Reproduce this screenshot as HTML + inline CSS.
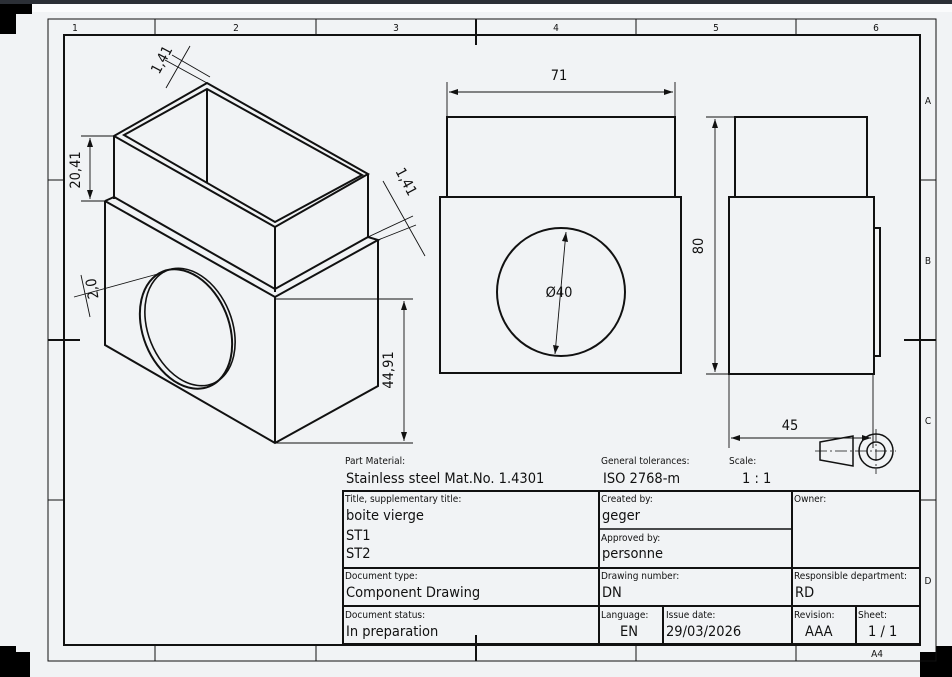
<!DOCTYPE html>
<html><head><meta charset="utf-8"><style>
html,body{margin:0;padding:0;background:#eef0f2;}
svg{display:block;}
text{font-family:"DejaVu Sans Condensed","Liberation Sans",sans-serif;fill:#111;}
.s{font-size:10px;}
.m{font-size:14.5px;}
</style></head><body>
<svg width="952" height="677" viewBox="0 0 952 677" xmlns="http://www.w3.org/2000/svg">
<rect x="0" y="0" width="952" height="677" fill="#f1f3f5"/>
<rect x="0" y="0" width="952" height="4" fill="#2b2f36"/>
<rect x="0" y="4" width="32" height="10" fill="#000"/>
<rect x="0" y="14" width="16" height="20" fill="#000"/>
<rect x="0" y="646" width="16" height="31" fill="#000"/>
<rect x="16" y="652" width="14" height="25" fill="#000"/>
<rect x="920" y="652" width="32" height="25" fill="#000"/>
<rect x="936" y="646" width="16" height="10" fill="#000"/>
<rect x="32" y="4" width="920" height="8" fill="#fafbfc"/>
<g fill="none" stroke="#111">
<rect x="48" y="19" width="888" height="642" stroke-width="1"/>
<rect x="64" y="35" width="856" height="610" stroke-width="2"/>
<path d="M155 19V35M316 19V35M636 19V35M796 19V35M155 645V661M316 645V661M636 645V661M796 645V661M48 180H64M48 500H64M920 180H936M920 500H936" stroke-width="1"/>
<path d="M476 19V45M476 635V661M48 340H80M904 340H936" stroke-width="2"/>
</g>
<g class="s" text-anchor="middle">
<text x="75" y="31">1</text><text x="236" y="31">2</text><text x="396" y="31">3</text><text x="556" y="31">4</text><text x="716" y="31">5</text><text x="876" y="31">6</text>
<text x="928" y="104">A</text><text x="928" y="264">B</text><text x="928" y="424">C</text><text x="928" y="584">D</text>
<text x="877" y="657">A4</text>
</g>

<!-- isometric -->
<g fill="none" stroke="#111" stroke-width="2" stroke-linejoin="miter">
<path d="M207 83L114 136L275 227L368 174Z"/>
<path d="M207 89L124 135L275 222L362 175Z"/>
<path d="M207 89V183"/>
<path d="M114 136V199M275 227V292M368 174V237"/>
<path d="M105 201L114 197M105 201L275 297L378 240L368 237"/>
<path d="M114 197L275 289L368 237"/>
<path d="M105 201V345L275 443L378 386V240M275 297V443"/>
<ellipse cx="186" cy="329" rx="43" ry="62" transform="rotate(-22 186 329)"/>
<ellipse cx="190" cy="327" rx="42" ry="61" transform="rotate(-22 190 327)" stroke-width="1.6"/>
</g>
<g fill="none" stroke="#111" stroke-width="0.9">
<path d="M81 136H114M81 201H105M90 138V199"/>
<path d="M275 299H413M275 443H413M404 301V441"/>
<path d="M165 60L207 83M172 55L210 77M166 88L190 46"/>
<path d="M383 181L425 256M368 237L413 216M378 240L416 225"/>
<path d="M74 297L165 272M81 275L90 317"/>
<path d="M447 117V82M675 117V82M449 92H673"/>
<path d="M706 117H735M706 374H730M715 119V372"/>
<path d="M729 374V448M873 374V448M731 438H871"/>
<path d="M566 232L555 354"/>
</g>
<g fill="#111">
<path d="M90 138l-3 9h6z M90 199l-3-9h6z"/>
<path d="M404 301l-3 9h6z M404 441l-3-9h6z"/>
<path d="M449 92l9-3v6z M673 92l-9-3v6z"/>
<path d="M715 119l-3 9h6z M715 372l-3-9h6z"/>
<path d="M731 438l9-3v6z M871 438l-9-3v6z"/>
<path d="M566 232l-4 9l6 1z M555 354l-2-9l6 1z"/>
</g>
<g class="m">
<text transform="translate(80 170) rotate(-90)" text-anchor="middle">20,41</text>
<text transform="translate(393 370) rotate(-90)" text-anchor="middle">44,91</text>
<text transform="translate(166 62) rotate(-62)" text-anchor="middle">1,41</text>
<text transform="translate(402 184) rotate(62)" text-anchor="middle">1,41</text>
<text transform="translate(97 288) rotate(-98)" text-anchor="middle">2,0</text>
<text x="559" y="80" text-anchor="middle">71</text>
<text x="559" y="297" text-anchor="middle">Ø40</text>
<text transform="translate(703 246) rotate(-90)" text-anchor="middle">80</text>
<text x="790" y="430" text-anchor="middle">45</text>
</g>

<!-- front view -->
<g fill="none" stroke="#111" stroke-width="2">
<rect x="447" y="117" width="228" height="80"/>
<rect x="440" y="197" width="241" height="176"/>
<circle cx="561" cy="292" r="64"/>
<rect x="735" y="117" width="132" height="80"/>
<rect x="729" y="197" width="145" height="177"/>
<rect x="874" y="228" width="6" height="128"/>
<path d="M820 442L853 436V466L820 460Z" stroke-width="1.5"/>
<circle cx="876" cy="451" r="17" stroke-width="1.5"/>
<circle cx="876" cy="451" r="9" stroke-width="1.5"/>
</g>
<path d="M815 451H896M876 429V474" stroke="#111" stroke-width="0.8" stroke-dasharray="12 3 2 3" fill="none"/>

<!-- upper texts -->
<text x="345" y="464" class="s">Part Material:</text>
<text x="346" y="483" class="m">Stainless steel Mat.No. 1.4301</text>
<text x="601" y="464" class="s">General tolerances:</text>
<text x="603" y="483" class="m">ISO 2768-m</text>
<text x="729" y="464" class="s">Scale:</text>
<text x="742" y="483" class="m">1 : 1</text>

<!-- title block -->
<g fill="none" stroke="#111" stroke-width="2">
<rect x="343" y="491" width="577" height="153"/>
<path d="M599 491V644M792 491V644M343 568H920M343 606H920M663 606V644M856 606V644"/>
<path d="M599 529H792" stroke-width="1.5"/>
</g>
<g class="s">
<text x="345" y="502">Title, supplementary title:</text>
<text x="601" y="502">Created by:</text>
<text x="794" y="502">Owner:</text>
<text x="601" y="541">Approved by:</text>
<text x="345" y="579">Document type:</text>
<text x="601" y="579">Drawing number:</text>
<text x="794" y="579">Responsible department:</text>
<text x="345" y="618">Document status:</text>
<text x="601" y="618">Language:</text>
<text x="666" y="618">Issue date:</text>
<text x="794" y="618">Revision:</text>
<text x="858" y="618">Sheet:</text>
</g>
<g class="m">
<text x="346" y="520">boite vierge</text>
<text x="346" y="540">ST1</text>
<text x="346" y="558">ST2</text>
<text x="602" y="520">geger</text>
<text x="602" y="558">personne</text>
<text x="346" y="597">Component Drawing</text>
<text x="602" y="597">DN</text>
<text x="795" y="597">RD</text>
<text x="346" y="636">In preparation</text>
<text x="620" y="636">EN</text>
<text x="666" y="636">29/03/2026</text>
<text x="805" y="636">AAA</text>
<text x="868" y="636">1 / 1</text>
</g>
</svg>
</body></html>
